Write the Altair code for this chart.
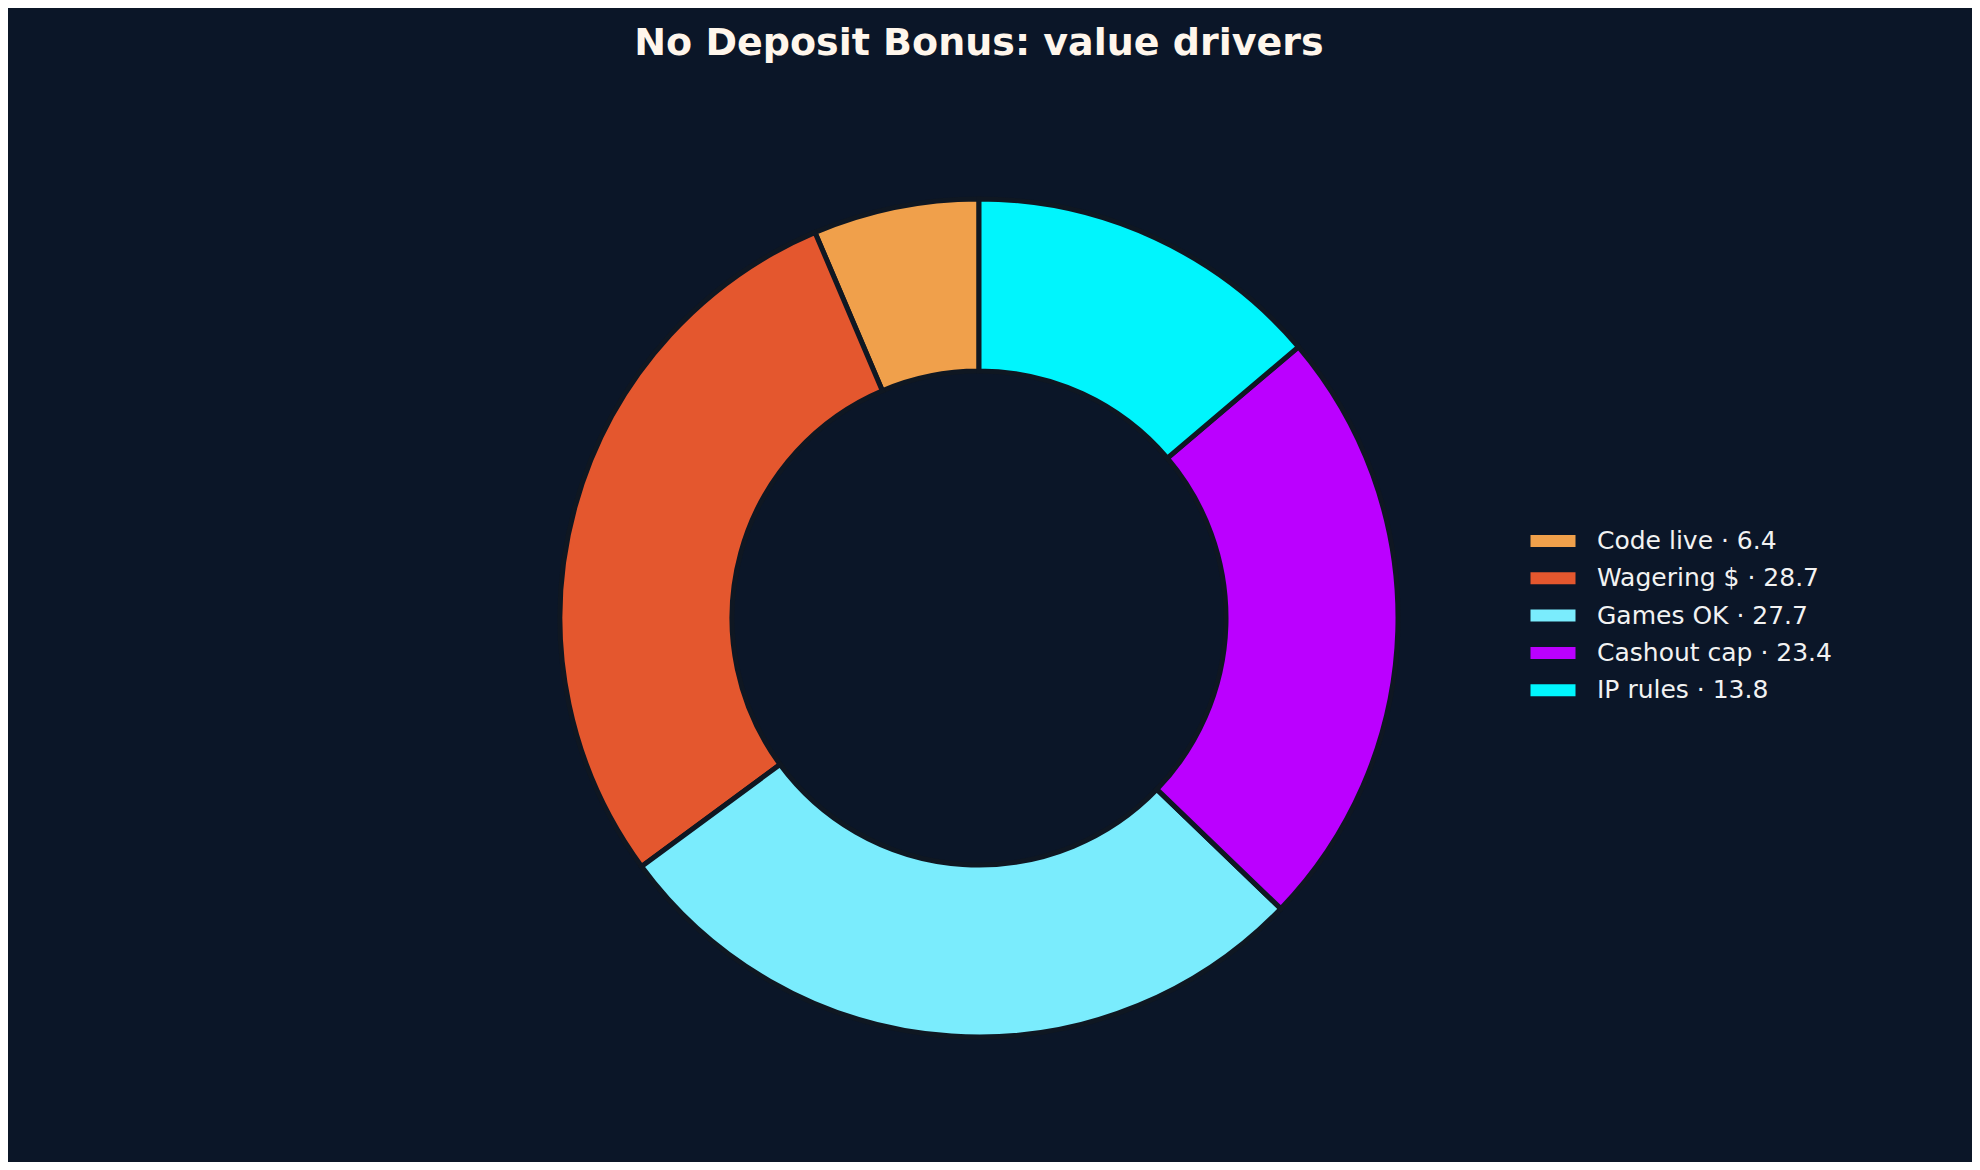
import altair as alt
import pandas as pd

# ---- data ----
categories = ["Code live", "Wagering $", "Games OK", "Cashout cap", "IP rules"]
values = [6.4, 28.7, 27.7, 23.4, 13.8]
colors = ["#f0a04b", "#e4572e", "#7aecfd", "#bb00ff", "#00f5fd"]
# drawing order clockwise from 12 o'clock (reference runs counter-clockwise from top)
clockwise_rank = [4, 3, 2, 1, 0]
title_text = "No Deposit Bonus: value drivers"

BG = "#0b1628"

labels = [f"{c} \u00b7 {v}" for c, v in zip(categories, values)]
df = pd.DataFrame({"label": labels, "value": values, "rank": clockwise_rank})

W, H = 1964, 1154
CX, CY = 971, 610

arcs = alt.Chart(df).mark_arc(
    innerRadius=247, outerRadius=419, stroke="#0f1722", strokeWidth=5
).encode(
    theta=alt.Theta("value:Q", stack=True),
    order=alt.Order("rank:Q", sort="ascending"),
    color=alt.Color(
        "label:N",
        sort=labels,
        scale=alt.Scale(domain=labels, range=colors),
        legend=alt.Legend(
            title=None,
            orient="none",
            legendX=1530,
            legendY=518,
            symbolType="M-1.5,-0.4H1.5V0.4H-1.5Z",
            symbolSize=900,
            symbolStrokeWidth=0,
            symbolOpacity=1,
            labelFontSize=25,
            labelFont="DejaVu Sans",
            labelColor="#f2f2f2",
            labelOffset=29,
            labelLimit=0,
            rowPadding=9.3,
            padding=0,
        ),
    ),
    x=alt.value(CX),
    y=alt.value(CY),
)

title = alt.Chart(pd.DataFrame({"t": [title_text]})).mark_text(
    font="DejaVu Sans", fontSize=38, fontWeight="bold", color="#fff6ec",
    align="center", baseline="middle"
).encode(text="t:N", x=alt.value(CX), y=alt.value(36))

chart = alt.layer(arcs, title).properties(
    width=W, height=H, padding=0,
    autosize=alt.AutoSizeParams(type="none"),
    background=BG,
).configure_view(strokeWidth=0)

chart.save("out.html", embed_options={"renderer": "svg", "actions": False})
